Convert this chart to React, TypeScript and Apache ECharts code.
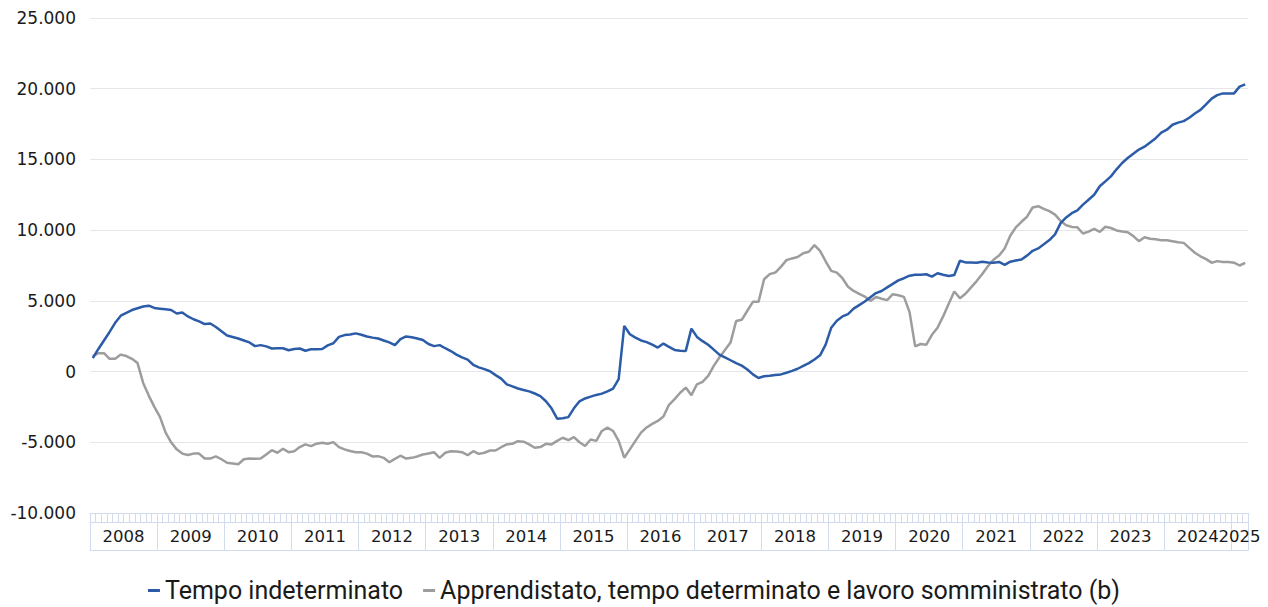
import React, { useEffect, useRef } from "react";
import * as echarts from "echarts";

// ---- data ----
const years = [2008, 2009, 2010, 2011, 2012, 2013, 2014, 2015, 2016, 2017, 2018, 2019, 2020, 2021, 2022, 2023, 2024, 2025];
const monthsInLastYear = 3;

const seriesNames = [
  "Tempo indeterminato",
  "Apprendistato, tempo determinato e lavoro somministrato (b)",
];

const tempoIndeterminato = [
  950, 1600, 2200, 2800, 3450, 3950, 4150, 4350, 4480, 4600, 4660, 4500,
  4450, 4400, 4350, 4110, 4180, 3900, 3700, 3550, 3360, 3400, 3150, 2850,
  2550, 2450, 2340, 2200, 2060, 1800, 1870, 1780, 1630, 1650, 1650, 1510,
  1600, 1630, 1470, 1580, 1580, 1600, 1850, 2000, 2450, 2580, 2620, 2700,
  2600, 2480, 2400, 2340, 2200, 2060, 1870, 2290, 2480, 2420, 2340, 2230,
  1950, 1800, 1870, 1650, 1450, 1200, 1000, 850, 480, 300, 170, 20,
  -250, -500, -900, -1050, -1200, -1300, -1400, -1550, -1730, -2100, -2600, -3330,
  -3300, -3220, -2600, -2100, -1900, -1770, -1650, -1560, -1400, -1200, -540, 3230,
  2640, 2400, 2200, 2080, 1900, 1700, 1980, 1750, 1530, 1480, 1460, 3040,
  2450, 2150, 1900, 1550, 1200, 1000, 800, 600, 420, 150, -200, -450,
  -330, -300, -250, -200, -80, 50, 200, 400, 600, 850, 1150, 1900,
  3100, 3600, 3900, 4060, 4450, 4700, 4950, 5250, 5550, 5700, 5950, 6200,
  6450, 6600, 6780, 6850, 6850, 6880, 6710, 6950, 6850, 6760, 6830, 7840,
  7720, 7720, 7700, 7770, 7720, 7700, 7750, 7540, 7770, 7850, 7930, 8200,
  8540, 8710, 9000, 9300, 9700, 10500, 10900, 11200, 11400, 11800, 12150, 12500,
  13100, 13450, 13800, 14300, 14750, 15100, 15400, 15700, 15900, 16200, 16500, 16900,
  17100, 17450, 17600, 17710, 17950, 18250, 18500, 18900, 19300, 19550, 19670, 19670,
  19670, 20150, 20310,
];

const apprendistato = [
  1100, 1300, 1300, 900, 900, 1200, 1100, 900, 600, -800, -1700, -2500,
  -3200, -4300, -5000, -5500, -5800, -5900, -5800, -5800, -6150, -6150, -6000, -6200,
  -6450, -6500, -6550, -6200, -6150, -6170, -6150, -5860, -5560, -5740, -5460, -5700,
  -5630, -5340, -5150, -5270, -5100, -5040, -5100, -4990, -5340, -5500, -5620, -5700,
  -5700, -5800, -6000, -5980, -6100, -6410, -6170, -5950, -6150, -6100, -6000, -5860,
  -5790, -5700, -6100, -5740, -5630, -5650, -5700, -5910, -5630, -5820, -5740, -5580,
  -5580, -5350, -5150, -5110, -4920, -4960, -5150, -5390, -5340, -5110, -5150, -4900,
  -4680, -4850, -4630, -5000, -5260, -4800, -4900, -4200, -3960, -4200, -4900, -6090,
  -5500, -4900, -4320, -3950, -3700, -3490, -3180, -2350, -1950, -1500, -1130, -1670,
  -900, -730, -300, 400, 990, 1530, 2050, 3580, 3660, 4300, 4930, 4930,
  6530, 6890, 7000, 7400, 7880, 8000, 8100, 8370, 8470, 8940, 8540, 7800,
  7120, 7000, 6600, 6000, 5700, 5500, 5300, 5000, 5280, 5150, 5050, 5470,
  5400, 5280, 4200, 1780, 1950, 1900, 2600, 3100, 3900, 4800, 5660, 5190,
  5500, 5950, 6400, 6900, 7450, 7900, 8200, 8700, 9600, 10200, 10590, 10950,
  11600, 11690, 11500, 11340, 11100, 10650, 10350, 10230, 10200, 9760, 9900, 10090,
  9880, 10240, 10150, 9980, 9900, 9850, 9580, 9220, 9500, 9390, 9350, 9290,
  9280, 9220, 9150, 9100, 8750, 8400, 8150, 7950, 7700, 7810, 7740, 7740,
  7700, 7500, 7690,
];

const yMin = -10000;
const yMax = 25000;
const yStep = 5000;

// ---- categories (year-month) ----
const categories: string[] = [];
const monthsOfYear: Record<number, number> = {};
years.forEach((y, k) => {
  const n = k === years.length - 1 ? monthsInLastYear : 12;
  monthsOfYear[y] = n;
  for (let m = 1; m <= n; m++) categories.push(`${y}-${String(m).padStart(2, "0")}`);
});

const fmtIt = (v: number) => {
  const s = String(Math.abs(v)).replace(/\B(?=(\d{3})+(?!\d))/g, ".");
  return (v < 0 ? "-" : "") + s;
};

const BLUE = "#2c5ca8";
const GRAY = "#9d9d9d";
const AXIS_BLUE = "#d3dcef";
const TXT = "#1a1a1a";

export default function App() {
  const ref = useRef<HTMLDivElement>(null);
  useEffect(() => {
    if (!ref.current) return;
    const chart = echarts.init(ref.current, null, { renderer: "svg" });
    const isYearStart = (idx: number) => categories[idx].endsWith("-01");
    const labelIdx = (idx: number) => {
      const [y, m] = categories[idx].split("-").map(Number);
      const n = monthsOfYear[y];
      const mid = n % 2 === 0 ? n / 2 : (n + 1) / 2;
      return m === mid;
    };
    const baseCat = {
      type: "category",
      data: categories,
      boundaryGap: true,
      position: "bottom",
      splitLine: { show: false },
    };
    chart.setOption({
      animation: false,
      grid: { left: 90, right: 20, top: 18, bottom: 94, containLabel: false },
      legend: {
        top: 573,
        left: "center",
        icon: "rect",
        itemWidth: 12,
        itemHeight: 3,
        itemGap: 20,
        textStyle: { fontFamily: "Roboto", fontSize: 25, color: TXT },
        data: seriesNames,
      },
      xAxis: [
        {
          ...baseCat,
          axisLine: { show: true, onZero: false, lineStyle: { color: AXIS_BLUE, width: 1 } },
          axisTick: { show: true, interval: 0, length: 9, lineStyle: { color: AXIS_BLUE } },
          axisLabel: { show: false },
        },
        {
          ...baseCat,
          offset: 0,
          axisLine: { show: false, onZero: false },
          axisTick: {
            show: true,
            interval: (idx: number) => isYearStart(idx),
            length: 37,
            lineStyle: { color: AXIS_BLUE },
          },
          axisLabel: {
            show: true,
            interval: (idx: number) => labelIdx(idx),
            showMinLabel: true,
            showMaxLabel: true,
            hideOverlap: false,
            margin: 15,
            formatter: (v: string) => {
              const y = Number(v.slice(0, 4));
              return monthsOfYear[y] % 2 === 0 ? `{s|${y}}` : `{c|${y}}`;
            },
            rich: {
              s: { fontFamily: "DejaVu Sans", fontSize: 16.5, color: TXT, padding: [0, 0, 0, 5.6] },
              c: { fontFamily: "DejaVu Sans", fontSize: 16.5, color: TXT },
            },
          },
        },
        {
          ...baseCat,
          offset: 9,
          axisLine: { show: true, onZero: false, lineStyle: { color: AXIS_BLUE, width: 1 } },
          axisTick: { show: false },
          axisLabel: { show: false },
        },
        {
          ...baseCat,
          offset: 37,
          axisLine: { show: true, onZero: false, lineStyle: { color: AXIS_BLUE, width: 1 } },
          axisTick: { show: false },
          axisLabel: { show: false },
        },
      ],
      yAxis: {
        type: "value",
        min: yMin,
        max: yMax,
        interval: yStep,
        axisLine: { show: false },
        axisTick: { show: false },
        splitLine: { show: true, lineStyle: { color: "#e4e6ea", width: 1 } },
        axisLabel: {
          margin: 14,
          fontFamily: "DejaVu Sans",
          fontSize: 17,
          color: TXT,
          formatter: (v: number) => fmtIt(v),
        },
      },
      series: [
        {
          name: seriesNames[0],
          type: "line",
          data: tempoIndeterminato,
          showSymbol: false,
          lineStyle: { color: BLUE, width: 2.5 },
          itemStyle: { color: BLUE },
          z: 3,
        },
        {
          name: seriesNames[1],
          type: "line",
          data: apprendistato,
          showSymbol: false,
          lineStyle: { color: GRAY, width: 2.5 },
          itemStyle: { color: GRAY },
          z: 2,
        },
      ],
    });
    return () => chart.dispose();
  }, []);
  return (
    <div
      ref={ref}
      style={{ position: "fixed", left: 0, top: 0, width: 1268, height: 607, background: "#fff" }}
    />
  );
}
